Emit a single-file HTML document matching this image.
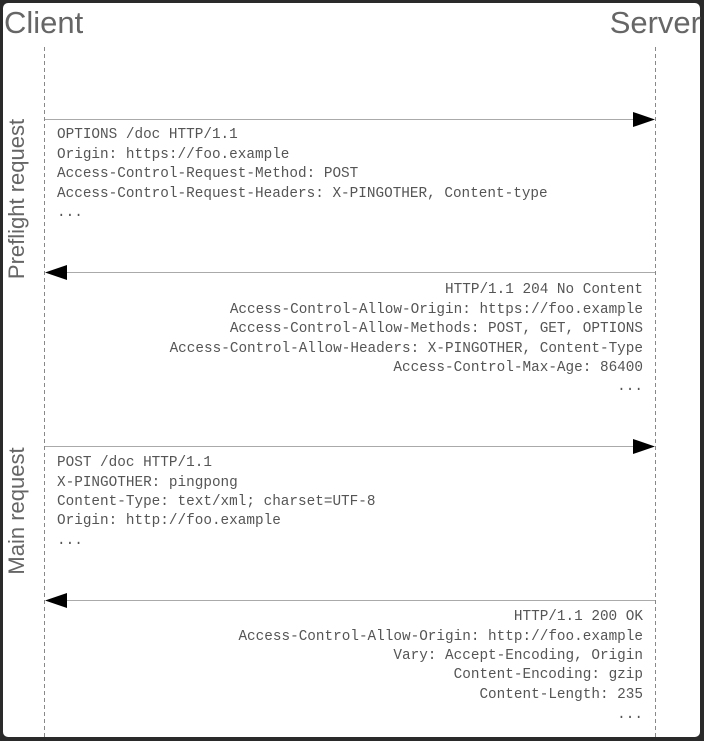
<!DOCTYPE html>
<html><head><meta charset="utf-8"><style>
html,body{margin:0;padding:0;background:#222;}
svg{display:block}
.m{font-family:"Liberation Mono",monospace;font-size:14.35px;fill:#555}
.h{font-family:"Liberation Sans",sans-serif;fill:#666}
</style></head><body>
<svg width="704" height="741" viewBox="0 0 704 741">
<rect x="0" y="0" width="704" height="741" fill="#2a2a2a"/>
<rect x="3" y="3" width="697" height="734" rx="5" fill="#fff"/>
<text class="h" x="4" y="33" font-size="31">Client</text>
<text class="h" x="701" y="33" font-size="31" text-anchor="end">Server</text>
<text class="h" font-size="22" transform="translate(24,199) rotate(-90)" text-anchor="middle">Preflight request</text>
<text class="h" font-size="22" transform="translate(24,511) rotate(-90)" text-anchor="middle">Main request</text>
<g stroke="#888" stroke-width="1" stroke-dasharray="4,3">
<line x1="44.5" y1="47" x2="44.5" y2="737"/>
<line x1="655.5" y1="47" x2="655.5" y2="737"/>
</g>
<g stroke="#aaa" stroke-width="1">
<line x1="45" y1="119.5" x2="634" y2="119.5"/>
<line x1="66" y1="272.5" x2="655" y2="272.5"/>
<line x1="45" y1="446.5" x2="634" y2="446.5"/>
<line x1="66" y1="600.5" x2="655" y2="600.5"/>
</g>
<g fill="#000">
<polygon points="633,112 655,119.5 633,127"/>
<polygon points="67,265 45,272.5 67,280"/>
<polygon points="633,439 655,446.5 633,454"/>
<polygon points="67,593 45,600.5 67,608"/>
</g>
<g class="m">
<text x="57" y="138">OPTIONS /doc HTTP/1.1</text>
<text x="57" y="158">Origin: https://foo.example</text>
<text x="57" y="177">Access-Control-Request-Method: POST</text>
<text x="57" y="197">Access-Control-Request-Headers: X-PINGOTHER, Content-type</text>
<text x="57" y="216">...</text>
<text x="57" y="466">POST /doc HTTP/1.1</text>
<text x="57" y="486">X-PINGOTHER: pingpong</text>
<text x="57" y="505">Content-Type: text/xml; charset=UTF-8</text>
<text x="57" y="524">Origin: http://foo.example</text>
<text x="57" y="544">...</text>
</g>
<g class="m" text-anchor="end">
<text x="643" y="293">HTTP/1.1 204 No Content</text>
<text x="643" y="313">Access-Control-Allow-Origin: https://foo.example</text>
<text x="643" y="332">Access-Control-Allow-Methods: POST, GET, OPTIONS</text>
<text x="643" y="352">Access-Control-Allow-Headers: X-PINGOTHER, Content-Type</text>
<text x="643" y="371">Access-Control-Max-Age: 86400</text>
<text x="643" y="390">...</text>
<text x="643" y="620">HTTP/1.1 200 OK</text>
<text x="643" y="640">Access-Control-Allow-Origin: http://foo.example</text>
<text x="643" y="659">Vary: Accept-Encoding, Origin</text>
<text x="643" y="678">Content-Encoding: gzip</text>
<text x="643" y="698">Content-Length: 235</text>
<text x="643" y="718">...</text>
</g>
</svg>
</body></html>
